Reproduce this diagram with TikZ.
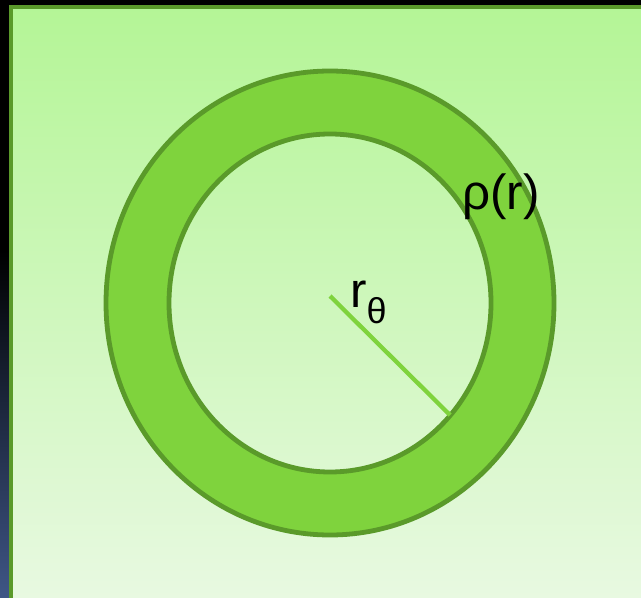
\documentclass[tikz,border=0pt]{standalone}
\usepackage{fontspec}
\setmainfont{Liberation Sans}
\usetikzlibrary{positioning}
\definecolor{ink}{HTML}{000000}
\definecolor{slate}{HTML}{3F5686}
\definecolor{leaf}{HTML}{7FD33D}
\definecolor{darkleaf}{HTML}{5A9A2A}
\definecolor{paletop}{HTML}{B4F596}
\definecolor{palebottom}{HTML}{E8F9E1}
\tikzset{
  ring/.style={fill=leaf,draw=darkleaf,line width=3.6pt,even odd rule},
  edge/.style={draw=darkleaf,line width=3pt},
  radius/.style={draw=leaf,line width=3.2pt},
  lbl/.style={inner sep=0pt,anchor=base west,text=ink,font=\fontsize{37}{42}\selectfont}}

\begin{document}
\begin{tikzpicture}[x=0.75pt,y=-0.75pt]
  \useasboundingbox (0,0) rectangle (641,598);
  % backdrop and panel
  \fill[ink] (0,0) rectangle (641,598);
  \shade[top color=ink,middle color=ink,bottom color=slate] (0,250) rectangle (9,598);
  \shade[top color=paletop,bottom color=palebottom] (9,6) rectangle (641,598);
  \draw[edge] (10.5,598) -- (10.5,7.5) -- (641,7.5);
  % shell
  \coordinate (centre) at (330,303);
  \path[ring] (centre) ellipse[x radius=224,y radius=232] (centre) ellipse[x radius=161,y radius=169];
  \coordinate (hub) at (330,296);
  \coordinate (rim) at (450,415);
  \draw[radius] (hub) -- (rim);
  % labels
  \node[lbl] (rtheta) at (350,307) {r\raisebox{-12pt}{\fontsize{27}{30}\selectfont θ}};
  \node[lbl] (rho) at (462,210) {ρ(r)};
\end{tikzpicture}
\end{document}
